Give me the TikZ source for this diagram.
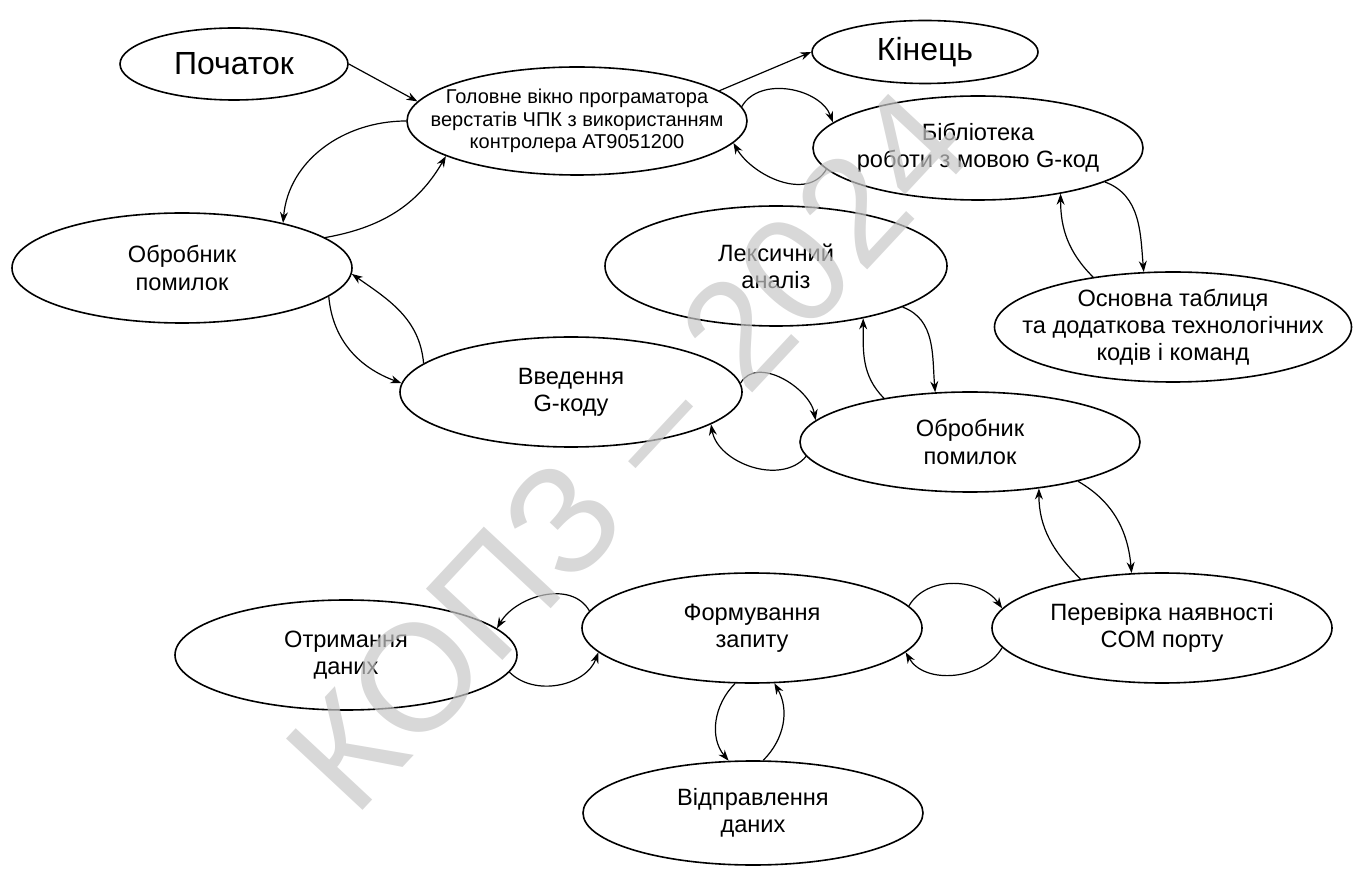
\documentclass[tikz,border=0pt]{standalone}
\usepackage{fontspec}
\setmainfont{Liberation Sans}
\usetikzlibrary{shapes.geometric, arrows.meta, positioning}

\begin{document}
\begin{tikzpicture}[x=0.5pt, y=0.5pt,
    st/.style={draw, ellipse, line width=0.8pt, minimum width=170pt, minimum height=55pt, inner sep=0pt},
    txt/.style={align=center, font=\fontsize{11.8}{13.6}\selectfont},
    big/.style={align=center, font=\fontsize{16}{19}\selectfont},
    small/.style={align=center, font=\fontsize{10}{11.3}\selectfont},
    lnk/.style={-{Stealth[length=5.5pt, width=4pt]}, line width=0.6pt},
    wm/.style={font=\fontsize{76}{76}\selectfont, text=black!22, opacity=0.7},
    every label/.style={txt}]
  \useasboundingbox (0,0) rectangle (1355,-871);

  \node[st, minimum width=114pt, minimum height=36pt, label={[big]center:Початок}] (beg) at (234,-64) {};
  \node[st, minimum height=54pt, label={[small]center:{Головне вікно програматора\\верстатів ЧПК з використанням\\контролера AT9051200}}] (gol) at (577,-121) {};
  \node[st, minimum width=113pt, minimum height=31.5pt, label={[big]center:Кінець}] (fin) at (925,-52) {};
  \node[st, minimum width=165pt, minimum height=52pt, label={center:{Бібліотека\\роботи з мовою G-код}}] (lib) at (978,-148) {};
  \node[st, minimum width=178.5pt, label={center:{Основна таблиця\\та додаткова технологічних\\кодів і команд}}] (tab) at (1173,-327) {};
  \node[st, label={center:{Обробник\\помилок}}] (err1) at (182,-268) {};
  \node[st, minimum width=171pt, minimum height=60pt, label={center:{Лексичний\\аналіз}}] (lex) at (776,-266) {};
  \node[st, minimum width=171pt, label={center:{Введення\\G-коду}}] (inp) at (571,-392) {};
  \node[st, minimum height=50pt, label={center:{Обробник\\помилок}}] (err2) at (970,-442) {};
  \node[st, label={center:{Перевірка наявності\\COM порту}}] (com) at (1162,-628) {};
  \node[st, label={center:{Формування\\запиту}}] (req) at (752,-628) {};
  \node[st, minimum width=171pt, label={center:{Отримання\\даних}}] (rcv) at (346,-655) {};
  \node[st, minimum height=52pt, label={center:{Відправлення\\даних}}] (snd) at (753,-813) {};

  \draw[lnk] (beg.east) -- (gol.173);
  \draw[lnk] (gol.12) -- (fin.west);
  \draw[lnk] (gol.5) to[out=60, in=110] (lib.170);
  \draw[lnk] (lib.188) to[out=240, in=-60] (gol.352);
  \draw[lnk] (gol.west) to[out=180, in=85] (err1.24);
  \draw[lnk] (err1.12) to[out=10, in=240] (gol.195);
  \draw[lnk] (err1.349) to[out=-85, in=160] (inp.177);
  \draw[lnk] (inp.169) to[out=95, in=-35] (err1.358);
  \draw[lnk] (inp.3) to[out=60, in=100] (err2.172);
  \draw[lnk] (err2.185) to[out=230, in=-80] (inp.347);
  \draw[lnk] (err2.153) to[out=135, in=-90] (lex.329);
  \draw[lnk] (lex.342) to[out=-20, in=95] (err2.125);
  \draw[lnk] (tab.148) to[out=135, in=-90] (lib.331);
  \draw[lnk] (lib.345) to[out=-20, in=95] (tab.118);
  \draw[lnk] (com.149) to[out=135, in=-90] (err2.326);
  \draw[lnk] (err2.340) to[out=-30, in=95] (com.119);
  \draw[lnk] (req.8) to[out=60, in=125] (com.173);
  \draw[lnk] (com.187) to[out=240, in=-60] (req.351);
  \draw[lnk] (req.174) to[out=120, in=60] (rcv.10);
  \draw[lnk] (rcv.354) to[out=-45, in=250] (req.189);
  \draw[lnk] (req.253) to[out=225, in=130] (snd.115);
  \draw[lnk] (snd.79) to[out=45, in=-60] (req.292);

  \node[wm, rotate=47] (mark) at (628,-450) {КОПЗ – 2024};
\end{tikzpicture}
\end{document}
